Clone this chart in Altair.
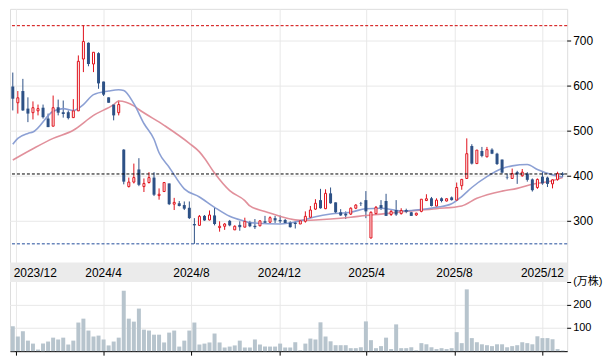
import altair as alt
import pandas as pd

# ---------------- data ----------------
opens = [599, 563, 589, 550, 541, 545, 552, 528, 511, 553, 542, 542, 530, 545, 660, 696, 649, 673, 610, 575,
         559, 541, 459, 377, 387, 415, 377, 386, 397, 357, 366, 384, 338, 340, 336, 330, 294, 291, 312, 303,
         313, 286, 289, 301, 281, 292, 287, 297, 290, 290, 300, 298, 307, 303, 303, 297, 297, 294, 300, 309,
         327, 347, 328, 362, 342, 320, 317, 316, 329, 340, 347, 263, 317, 336, 345, 315, 325, 317, 325, 320,
         314, 322, 346, 351, 334, 351, 345, 353, 347, 379, 395, 467, 428, 456, 443, 459, 450, 437, 397, 395,
         409, 401, 406, 393, 375, 399, 397, 383, 393, 406]
highs = [630, 589, 616, 575, 566, 559, 559, 539, 579, 570, 568, 546, 571, 668, 734, 697, 675, 675, 610, 575,
         559, 568, 460, 397, 428, 440, 395, 409, 409, 373, 386, 384, 352, 345, 344, 344, 307, 314, 314, 324,
         330, 300, 296, 303, 291, 300, 308, 301, 305, 302, 312, 311, 312, 313, 305, 300, 300, 303, 322, 334,
         349, 372, 371, 375, 342, 327, 322, 331, 338, 343, 367, 322, 334, 347, 361, 325, 347, 329, 328, 321,
         319, 349, 360, 354, 351, 353, 351, 355, 386, 394, 484, 471, 458, 465, 465, 462, 452, 437, 406, 417,
         412, 416, 409, 395, 395, 410, 399, 393, 410, 409]
lows = [546, 539, 545, 520, 526, 535, 528, 509, 511, 535, 530, 526, 530, 545, 631, 644, 631, 594, 578, 563,
        524, 535, 382, 375, 384, 378, 365, 384, 356, 348, 365, 336, 325, 333, 325, 305, 250, 290, 301, 302,
        291, 277, 281, 289, 281, 279, 287, 287, 283, 289, 296, 296, 296, 296, 296, 286, 284, 294, 297, 307,
        325, 328, 327, 339, 318, 312, 305, 314, 327, 334, 307, 262, 314, 325, 312, 312, 312, 315, 318, 312,
        312, 320, 345, 333, 333, 342, 344, 346, 346, 370, 395, 426, 428, 442, 442, 449, 425, 406, 393, 394,
        383, 399, 388, 366, 372, 381, 376, 373, 390, 398]
closes = [572, 574, 546, 539, 552, 550, 531, 509, 552, 541, 538, 529, 545, 655, 699, 649, 675, 606, 581, 563,
          535, 559, 388, 387, 397, 381, 384, 397, 359, 360, 386, 338, 342, 334, 328, 307, 291, 311, 302, 314,
          294, 289, 294, 291, 289, 287, 300, 289, 287, 301, 297, 308, 302, 300, 296, 287, 294, 301, 311, 325,
          340, 329, 362, 340, 320, 313, 313, 329, 336, 339, 322, 320, 331, 329, 312, 322, 315, 324, 321, 312,
          318, 349, 350, 334, 347, 345, 350, 347, 375, 393, 450, 428, 458, 445, 459, 450, 427, 408, 396, 406,
          404, 409, 392, 369, 393, 384, 383, 392, 406, 403]
volumes = [109, 64, 87, 46, 33, 7, 33, 42, 59, 51, 59, 29, 46, 125, 142, 90, 64, 68, 51, 25,
           42, 59, 264, 142, 129, 186, 94, 90, 72, 72, 38, 81, 90, 20, 46, 90, 125, 29, 33, 38,
           77, 38, 16, 20, 25, 46, 16, 16, 51, 29, 20, 20, 20, 33, 16, 16, 39, 4, 33, 55,
           51, 126, 64, 43, 26, 26, 26, 13, 13, 17, 130, 48, 13, 22, 59, 9, 117, 13, 13, 17,
           4, 35, 30, 17, 9, 13, 9, 13, 83, 35, 270, 57, 39, 30, 26, 22, 30, 30, 17, 22,
           26, 39, 35, 30, 65, 57, 57, 52, 9, 3]

ma_short_weeks = [1, 2, 4, 5, 9, 11, 13, 15, 17, 20, 22, 23, 25, 27, 29, 30, 32, 35, 38, 41, 44, 47, 48, 54,
                  58, 61, 64, 68, 71, 74, 78, 81, 85, 88, 90, 92, 95, 98, 100, 103, 105, 108, 110]
ma_short_vals = [471, 484, 495, 498, 544, 550, 546, 559, 581, 589, 592, 590, 561, 517, 482, 452, 420, 372, 354,
                 331, 311, 300, 297, 294, 301, 310, 316, 320, 328, 329, 323, 325, 331, 339, 355, 375, 399, 417,
                 423, 426, 415, 403, 398]
ma_long_weeks = [1, 5, 9, 13, 17, 21, 22, 25, 26, 31, 36, 38, 39, 41, 44, 47, 48, 51, 58, 61, 64, 68, 71, 74,
                 78, 85, 90, 93, 98, 101, 104, 108, 110]
ma_long_vals = [436, 461, 484, 502, 535, 559, 567, 556, 548, 513, 473, 454, 440, 407, 368, 346, 334, 322, 302,
                303, 305, 309, 313, 316, 321, 328, 334, 351, 367, 373, 382, 390, 397]

date_tick_dates = ["2023-12-01", "2024-04-01", "2024-08-01", "2024-12-01", "2025-04-01", "2025-08-01", "2025-12-01"]
date_tick_labels = ["2023/12", "2024/4", "2024/8", "2024/12", "2025/4", "2025/8", "2025/12"]
price_ticks = [300, 400, 500, 600, 700]
price_tick_labels = ["300", "400", "500", "600", "700"]
vol_ticks = [100, 200, 300]
vol_tick_labels = ["100", "200", "(万株)"]
vol_grid = [100, 200]
ref_high = 734
ref_last = 405
ref_low = 250

# ---------------- styling ----------------
RED = "#e0101a"
BLUE = "#2d5186"
GRID = "#e8e8e8"
FONT = "Liberation Sans"
CJK_FONT = "Liberation Sans, Noto Sans CJK JP, sans-serif"
W, H = 560, 344

weeks = pd.date_range("2023-11-27", periods=len(opens), freq="7D").strftime("%Y-%m-%d").tolist()

candles = pd.DataFrame({"date": weeks, "open": opens, "high": highs, "low": lows,
                        "close": closes, "volume": volumes})
candles["dir"] = ["up" if c >= o else "down" for o, c in zip(opens, closes)]
up = candles[candles["dir"] == "up"]
down = candles[candles["dir"] == "down"]

ma_s = pd.DataFrame({"date": [weeks[i - 1] for i in ma_short_weeks], "v": ma_short_vals})
ma_l = pd.DataFrame({"date": [weeks[i - 1] for i in ma_long_weeks], "v": ma_long_vals})
labels_df = pd.DataFrame({"date": date_tick_dates, "label": date_tick_labels})
pt = pd.DataFrame({"v": price_ticks, "label": price_tick_labels})
vt = pd.DataFrame({"v": vol_ticks, "label": vol_tick_labels})
vg = pd.DataFrame({"v": vol_grid})

xscale = alt.Scale(type="utc", padding=0,
                   domain=[alt.DateTime(year=2023, month=11, date=23, hours=3, utc=True),
                           alt.DateTime(year=2026, month=1, date=4, hours=8, utc=True)])
xaxis = alt.Axis(values=[alt.DateTime(year=int(d[:4]), month=int(d[5:7]), date=1, utc=True) for d in date_tick_dates],
                 grid=True, gridColor=GRID, labels=False, ticks=True, tickSize=4, tickColor="black",
                 domain=True, domainColor="black", title=None, orient="bottom")
X = alt.X("date:T", scale=xscale, axis=xaxis)

pscale = alt.Scale(domain=[11.9, 771.3], nice=False, zero=False, padding=0)
vscale = alt.Scale(domain=[0, 1495.7], nice=False, zero=False, padding=0)


def PY(field):
    return alt.Y(field, scale=pscale, axis=None)


def VY(field):
    return alt.Y(field, scale=vscale, axis=None)


# ---- price panel ----
pgrid = alt.Chart(pt).mark_rule(color=GRID, strokeWidth=1).encode(y=PY("v:Q"))
pticks = alt.Chart(pt).mark_rule(color="black", strokeWidth=1).encode(
    x=alt.value(W), x2=alt.value(W + 4), y=PY("v:Q"))
plabels = alt.Chart(pt).mark_text(align="left", baseline="middle", font=FONT, fontSize=12, color="black").encode(
    x=alt.value(W + 6), y=PY("v:Q"), text="label:N")

wick_up = alt.Chart(up).mark_rule(strokeWidth=1, color=RED).encode(x=X, y=PY("low:Q"), y2="high:Q")
wick_down = alt.Chart(down).mark_rule(strokeWidth=1, color=BLUE).encode(x=X, y=PY("low:Q"), y2="high:Q")
down_body = alt.Chart(down).mark_bar(size=3, color=BLUE).encode(x=X, y=PY("open:Q"), y2="close:Q")
up_body = alt.Chart(up).mark_bar(size=2, fill="white", stroke=RED, strokeWidth=1).encode(
    x=X, y=PY("open:Q"), y2="close:Q")
line_s = alt.Chart(ma_s).mark_line(color="#7f96cf", strokeWidth=1.6, interpolate="monotone", opacity=0.9).encode(
    x=X, y=PY("v:Q"))
line_l = alt.Chart(ma_l).mark_line(color="#de8490", strokeWidth=1.6, interpolate="monotone", opacity=0.9).encode(
    x=X, y=PY("v:Q"))
r_high = alt.Chart(pd.DataFrame({"v": [ref_high]})).mark_rule(
    strokeWidth=1, strokeDash=[3, 2], color="#d00000").encode(y=PY("v:Q"))
r_last = alt.Chart(pd.DataFrame({"v": [ref_last]})).mark_rule(
    strokeWidth=1, strokeDash=[3, 2], color="#000000").encode(y=PY("v:Q"))
r_low = alt.Chart(pd.DataFrame({"v": [ref_low]})).mark_rule(
    strokeWidth=1, strokeDash=[3, 2], color="#1f4a9a").encode(y=PY("v:Q"))

price = alt.layer(pgrid, pticks, plabels, wick_up, wick_down, line_l, line_s, down_body, up_body,
                  r_high, r_last, r_low)

# ---- volume panel ----
vgrid = alt.Chart(vg).mark_rule(color=GRID, strokeWidth=1).encode(y=VY("v:Q"))
vbars = alt.Chart(candles).mark_bar(size=4, color="#b7c4cd").encode(x=X, y=VY("volume:Q"))
band = alt.Chart(pd.DataFrame({"a": [0]})).mark_rect(color="#ebebeb").encode(
    x=alt.value(0), x2=alt.value(W), y=alt.value(255), y2=alt.value(274.5))
vticks = alt.Chart(vt).mark_rule(color="black", strokeWidth=1).encode(
    x=alt.value(W), x2=alt.value(W + 4), y=VY("v:Q"))
vlabels = alt.Chart(vt).mark_text(align="left", baseline="middle", font=CJK_FONT, fontSize=11,
                                  color="black").encode(x=alt.value(W + 6), y=VY("v:Q"), text="label:N")
first_lab = alt.Chart(labels_df.iloc[:1]).mark_text(align="left", baseline="middle", dx=-2, font=FONT,
                                                    fontSize=12, color="black").encode(
    x=X, y=alt.value(265), text="label:N")
other_lab = alt.Chart(labels_df.iloc[1:]).mark_text(align="center", baseline="middle", font=FONT,
                                                    fontSize=12, color="black").encode(
    x=X, y=alt.value(265), text="label:N")

volume = alt.layer(vgrid, vbars, band, vticks, vlabels, first_lab, other_lab)

chart = alt.layer(price, volume).resolve_scale(y="independent").properties(
    width=W, height=H, padding={"left": 1, "top": 0, "right": 0, "bottom": 0}
).configure_view(stroke="black", strokeWidth=1).configure(background="white")

chart.save("out.html", embed_options={"renderer": "svg", "actions": False})
